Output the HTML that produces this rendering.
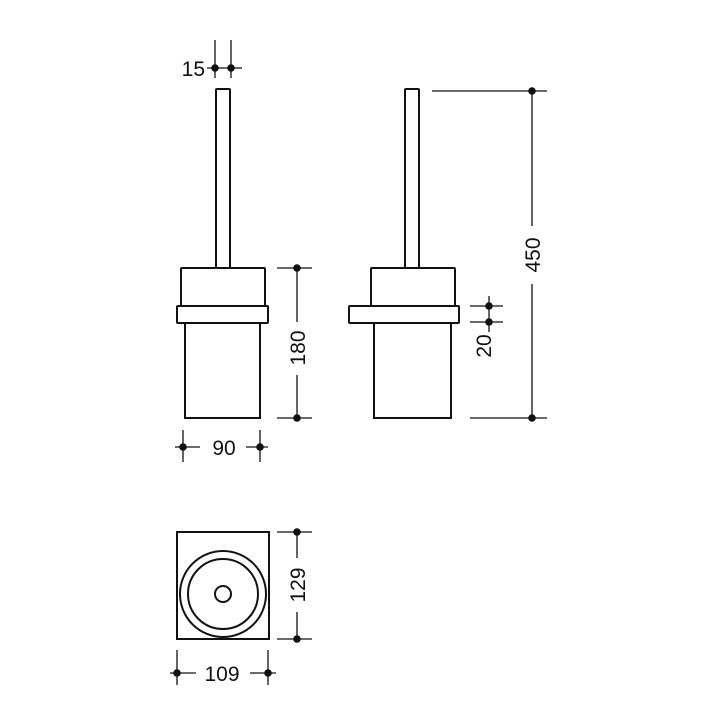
<!DOCTYPE html>
<html><head><style>body{margin:0;background:#fff}</style></head><body>
<svg width="720" height="720" viewBox="0 0 720 720" xmlns="http://www.w3.org/2000/svg" font-family="Liberation Sans, sans-serif" font-size="21" fill="none" stroke="#111" stroke-width="2">
<g>
<rect x="216" y="89" width="14" height="179" rx="1"/>
<rect x="181" y="268" width="84" height="38" rx="1"/>
<rect x="177" y="306" width="91" height="17" rx="1"/>
<path d="M185 323 V418 H260 V323"/>
<rect x="405" y="89" width="14" height="179" rx="1"/>
<rect x="371" y="268" width="84" height="38" rx="1"/>
<rect x="349" y="306" width="110" height="17" rx="1"/>
<path d="M374 323 V418 H451 V323"/>
<rect x="177" y="532" width="92" height="107"/>
<circle cx="223" cy="594" r="43"/>
<circle cx="223" cy="594" r="35"/>
<circle cx="223" cy="594" r="8"/>
</g>
<g stroke-width="1.3">
<line x1="215" y1="40" x2="215" y2="78"/><line x1="231" y1="40" x2="231" y2="78"/>
<line x1="207" y1="68" x2="242" y2="68"/>
<line x1="277" y1="268" x2="312" y2="268"/><line x1="277" y1="418" x2="312" y2="418"/>
<line x1="297" y1="268" x2="297" y2="322"/><line x1="297" y1="375" x2="297" y2="418"/>
<line x1="183" y1="430" x2="183" y2="462"/><line x1="260" y1="430" x2="260" y2="462"/>
<line x1="175" y1="447" x2="200" y2="447"/><line x1="246" y1="447" x2="268" y2="447"/>
<line x1="432" y1="91" x2="547" y2="91"/><line x1="470" y1="418" x2="547" y2="418"/>
<line x1="532" y1="91" x2="532" y2="226"/><line x1="532" y1="284" x2="532" y2="418"/>
<line x1="470" y1="306" x2="503" y2="306"/><line x1="470" y1="322" x2="503" y2="322"/>
<line x1="489" y1="296" x2="489" y2="332"/>
<line x1="277" y1="532" x2="312" y2="532"/><line x1="277" y1="639" x2="312" y2="639"/>
<line x1="297" y1="532" x2="297" y2="558"/><line x1="297" y1="612" x2="297" y2="639"/>
<line x1="177" y1="650" x2="177" y2="685"/><line x1="268" y1="650" x2="268" y2="685"/>
<line x1="170" y1="673" x2="196" y2="673"/><line x1="250" y1="673" x2="276" y2="673"/>
</g>
<g fill="#111" stroke="none">
<circle cx="215" cy="68" r="3.8"/><circle cx="231" cy="68" r="3.8"/>
<circle cx="297" cy="268" r="3.8"/><circle cx="297" cy="418" r="3.8"/>
<circle cx="183" cy="447" r="3.8"/><circle cx="260" cy="447" r="3.8"/>
<circle cx="532" cy="91" r="3.8"/><circle cx="532" cy="418" r="3.8"/>
<circle cx="489" cy="306" r="3.8"/><circle cx="489" cy="322" r="3.8"/>
<circle cx="297" cy="532" r="3.8"/><circle cx="297" cy="639" r="3.8"/>
<circle cx="177" cy="673" r="3.8"/><circle cx="268" cy="673" r="3.8"/>
<text x="205" y="76" text-anchor="end">15</text>
<text x="224" y="455" text-anchor="middle">90</text>
<text x="222" y="681" text-anchor="middle">109</text>
<text transform="translate(305,348) rotate(-90)" text-anchor="middle">180</text>
<text transform="translate(540,255) rotate(-90)" text-anchor="middle">450</text>
<text transform="translate(491,346) rotate(-90)" text-anchor="middle">20</text>
<text transform="translate(305,585) rotate(-90)" text-anchor="middle">129</text>
</g>
</svg>
</body></html>
